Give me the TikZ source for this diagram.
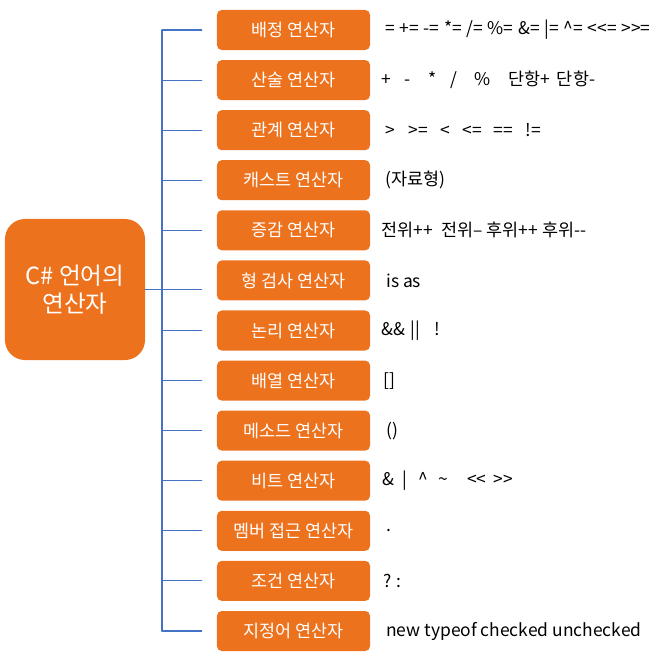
\documentclass[tikz,border=0pt]{standalone}
\usepackage{fontspec}
\setmainfont{Noto Sans CJK KR}

\begin{document}
\begin{tikzpicture}[
    x=0.025cm, y=-0.025cm,
    line cap=round,
    line join=round,
    every node/.style={font=\fontsize{12.4}{15}\selectfont},
    rootbox/.style={fill=oporange, rounded corners=0.5cm, minimum width=3.5cm,
        minimum height=3.525cm, text=white, align=center,
        font=\fontsize{16.8}{19.5}\selectfont},
    opbox/.style={fill=oporange, rounded corners=0.12cm, minimum width=3.825cm,
        minimum height=1.0cm, text=white},
    opdesc/.style={anchor=west, inner sep=0pt, text=black},
    branch/.style={linkblue, line width=0.8pt, shorten >=0.375cm},
    trunkline/.style={linkblue, line width=0.8pt}
]

\definecolor{oporange}{RGB}{236,114,30}
\definecolor{linkblue}{RGB}{68,114,196}

\useasboundingbox (0,0) rectangle (664,656);

% -----------------------------
% Root box
% -----------------------------
\node[rootbox] (root) at (75,289.5) {C\# 언어의\\연산자};

% -----------------------------
% Operator boxes
% -----------------------------
\node[opbox] (assign)  at (293.5,30)    {배정 연산자};
\node[opbox] (arith)   at (293.5,80.1)  {산술 연산자};
\node[opbox] (rel)     at (293.5,130.2) {관계 연산자};
\node[opbox] (cast)    at (293.5,180.2) {캐스트 연산자};
\node[opbox] (incdec)  at (293.5,230.3) {증감 연산자};
\node[opbox] (typechk) at (293.5,280.4) {형 검사 연산자};
\node[opbox] (logic)   at (293.5,330.5) {논리 연산자};
\node[opbox] (array)   at (293.5,380.6) {배열 연산자};
\node[opbox] (method)  at (293.5,430.6) {메소드 연산자};
\node[opbox] (bit)     at (293.5,480.7) {비트 연산자};
\node[opbox] (member)  at (293.5,530.8) {멤버 접근 연산자};
\node[opbox] (cond)    at (293.5,580.9) {조건 연산자};
\node[opbox] (spec)    at (293.5,631)   {지정어 연산자};

% -----------------------------
% Operator lists
% -----------------------------
\node[opdesc] (assignops)  at (385,30)
  {\spaceskip=0.27em\relax = += -= *= /= \%= \&= |= \^{}= <{}<= >{}>=};
\node[opdesc] (arithops)   at (381,80.1)
  {+\hspace{0.8em}-\hspace{1.0em}*\hspace{0.8em}/\hspace{1.0em}\%\hspace{1.0em}단항+\hspace{0.4em}단항-};
\node[opdesc] (relops)     at (385,130.2)
  {>\hspace{0.8em}>=\hspace{0.7em}<\hspace{0.7em}<=\hspace{0.7em}==\hspace{0.7em}!=};
\node[opdesc] (castops)    at (385,180.2) {(자료형)};
\node[opdesc] (incdecops)  at (381,230.3) {전위++\hspace{0.5em}전위– 후위++ 후위-{}-};
\node[opdesc] (typechkops) at (386,280.4) {is as};
\node[opdesc] (logicops)   at (381,330.5) {\&\& \hspace{0.1em}||\hspace{0.8em}!};
\node[opdesc] (arrayops)   at (383,380.6) {[]};
\node[opdesc] (methodops)  at (386,430.6) {()};
\node[opdesc] (bitops)     at (382,480.7)
  {\&\hspace{0.5em}|\hspace{0.6em}\^{}\hspace{0.6em}\textasciitilde\hspace{1.1em}<{}<\hspace{0.4em}>{}>};
\node[opdesc] (memberops)  at (386,530.8) {.};
\node[opdesc] (condops)    at (383,580.9) {? :};
\node[opdesc] (specops)    at (386,631)   {new typeof checked unchecked};

% -----------------------------
% Connectors
% -----------------------------
\coordinate (trunk) at (162,0);

\draw[trunkline] (assign.west -| trunk) -- (spec.west -| trunk);

\foreach \n in {assign,arith,rel,cast,incdec,logic,array,method,bit,member,cond,spec}
  \draw[branch] (\n.west -| trunk) -- (\n.west);

\draw[branch] (root.east) -- (root.east -| typechk.west);

\end{tikzpicture}
\end{document}
